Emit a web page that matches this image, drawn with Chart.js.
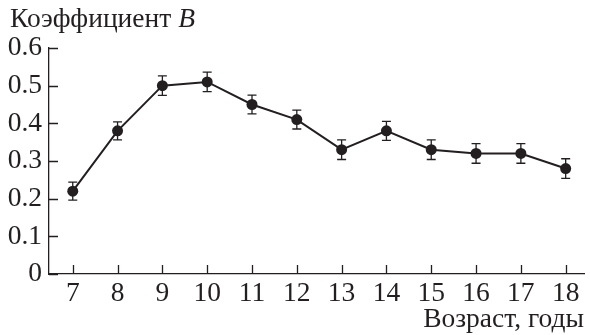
<!DOCTYPE html>
<html>
<head>
<meta charset="utf-8">
<script src="https://cdn.jsdelivr.net/npm/chart.js@4.4.1/dist/chart.umd.min.js"></script>
<style>
  html, body { margin: 0; padding: 0; background: #ffffff; }
  #wrap { width: 590px; height: 335px; position: relative; }
</style>
</head>
<body>
<div id="wrap"><canvas id="c" width="590" height="335"></canvas></div>
<script>
// Age groups (years) and coefficient B with its error
const ages = [7, 8, 9, 10, 11, 12, 13, 14, 15, 16, 17, 18];
const coefB = [0.22, 0.38, 0.50, 0.51, 0.45, 0.41, 0.33, 0.38, 0.33, 0.32, 0.32, 0.28];
const coefErr = [0.024, 0.024, 0.026, 0.026, 0.025, 0.025, 0.026, 0.025, 0.026, 0.026, 0.026, 0.026];
const yTicks = [0, 0.1, 0.2, 0.3, 0.4, 0.5, 0.6];

const INK = '#231f20';
const FONT = '"Liberation Serif"';
const FS = 27.5;

// inward tick marks, error bars and axis captions
const decor = {
  id: 'decor',
  beforeDatasetsDraw(chart) {
    const ctx = chart.ctx;
    const xs = chart.scales.x, ys = chart.scales.y;
    const area = chart.chartArea;
    ctx.save();
    ctx.strokeStyle = INK;
    ctx.lineWidth = 1.3;
    ctx.beginPath();
    xs.ticks.forEach(t => {
      const px = Math.round(xs.getPixelForValue(t.value)) + 0.5;
      ctx.moveTo(px, area.bottom);
      ctx.lineTo(px, area.bottom - 9);
    });
    ys.ticks.forEach(t => {
      const py = Math.round(ys.getPixelForValue(t.value)) + 0.5;
      ctx.moveTo(area.left, py);
      ctx.lineTo(area.left + 9, py);
    });
    ctx.stroke();

    // error bars
    ctx.beginPath();
    ages.forEach((a, i) => {
      const px = xs.getPixelForValue(a);
      const yt = ys.getPixelForValue(coefB[i] + coefErr[i]);
      const yb = ys.getPixelForValue(coefB[i] - coefErr[i]);
      ctx.moveTo(px, yt); ctx.lineTo(px, yb);
      ctx.moveTo(px - 4.5, yt); ctx.lineTo(px + 4.5, yt);
      ctx.moveTo(px - 4.5, yb); ctx.lineTo(px + 4.5, yb);
    });
    ctx.stroke();
    ctx.restore();
  },
  afterDraw(chart) {
    const ctx = chart.ctx;
    ctx.save();
    ctx.fillStyle = INK;
    ctx.textBaseline = 'alphabetic';
    ctx.textAlign = 'left';
    ctx.font = FS + 'px ' + FONT;
    const t1 = 'Коэффициент ';
    ctx.fillText(t1, 10, 27);
    const w = ctx.measureText(t1).width;
    ctx.font = 'italic ' + FS + 'px ' + FONT;
    ctx.fillText('B', 10 + w, 27);
    ctx.font = FS + 'px ' + FONT;
    ctx.textAlign = 'right';
    ctx.fillText('Возраст, годы', 584, 327);
    ctx.restore();
  }
};

function build() {
  new Chart(document.getElementById('c'), {
    type: 'line',
    data: {
      datasets: [{
        data: ages.map((a, i) => ({ x: a, y: coefB[i] })),
        borderColor: INK,
        borderWidth: 2,
        backgroundColor: INK,
        pointBackgroundColor: INK,
        pointBorderColor: INK,
        pointRadius: 5.5,
        pointBorderWidth: 0,
        tension: 0
      }]
    },
    options: {
      responsive: false,
      animation: false,
      devicePixelRatio: 1,
      layout: { padding: { top: 48, left: 0, right: 0, bottom: 0 } },
      plugins: { legend: { display: false }, tooltip: { enabled: false } },
      scales: {
        x: {
          type: 'linear',
          min: 6.47,
          max: 18.42,
          afterBuildTicks: s => { s.ticks = ages.map(v => ({ value: v })); },
          afterFit: s => { s.height = 61; },
          grid: { display: false, drawTicks: false },
          border: { display: true, color: INK, width: 1.3 },
          ticks: {
            color: INK,
            font: { family: FONT, size: FS },
            padding: 3,
            maxRotation: 0,
            autoSkip: false,
            callback: v => String(v)
          }
        },
        y: {
          min: 0,
          max: 0.6,
          afterBuildTicks: s => { s.ticks = yTicks.map(v => ({ value: v })); },
          afterFit: s => { s.width = 49; },
          grid: { display: false, drawTicks: false },
          border: { display: true, color: INK, width: 1.3 },
          ticks: {
            color: INK,
            font: { family: FONT, size: FS },
            padding: 7,
            callback: v => (v === 0 ? '0' : v.toFixed(1))
          }
        }
      }
    },
    plugins: [decor]
  });
}

Promise.all([
  document.fonts.load(FS + 'px "Liberation Serif"', 'Коэффициент 0.6'),
  document.fonts.load('italic ' + FS + 'px "Liberation Serif"', 'B')
]).then(build, build);
</script>
</body>
</html>
